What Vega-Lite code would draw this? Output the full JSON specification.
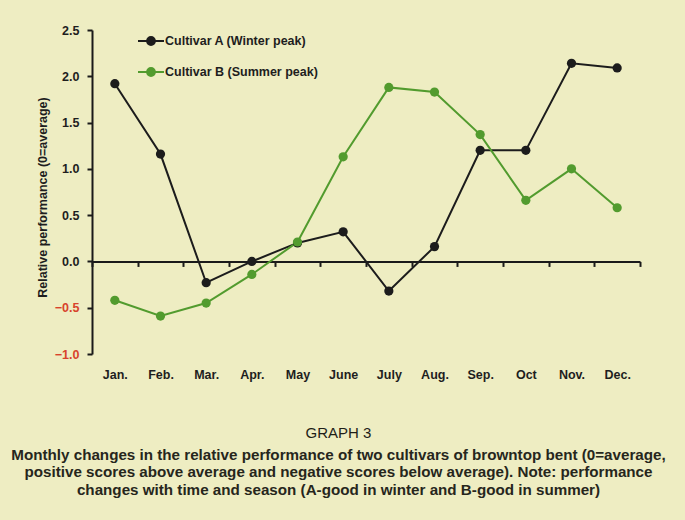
{
  "$schema": "https://vega.github.io/schema/vega-lite/v6.json",
  "width": 548,
  "height": 324,
  "autosize": "none",
  "padding": {"left": 92, "top": 30, "right": 45, "bottom": 166},
  "background": "#eeedc2",
  "config": {
    "view": {"stroke": null},
    "font": "Liberation Sans"
  },
  "title": {
    "text": "GRAPH 3",
    "subtitle": [
      "Monthly changes in the relative performance of two cultivars of browntop bent (0=average,",
      "positive scores above average and negative scores below average).  Note: performance",
      "changes with time and season (A-good in winter and B-good in summer)"
    ],
    "orient": "bottom",
    "anchor": "middle",
    "frame": "bounds",
    "offset": 45,
    "font": "Liberation Sans",
    "fontSize": 15,
    "fontWeight": "normal",
    "color": "#1e1e18",
    "subtitleFont": "Liberation Sans",
    "subtitleFontSize": 15.2,
    "subtitleFontWeight": "bold",
    "subtitleColor": "#26261c",
    "subtitlePadding": 7,
    "subtitleLineHeight": 17.5
  },
  "data": {
    "values": [
      {"month": "Jan.", "cultivar": "Cultivar A (Winter peak)", "score": 1.92},
      {"month": "Feb.", "cultivar": "Cultivar A (Winter peak)", "score": 1.16},
      {"month": "Mar.", "cultivar": "Cultivar A (Winter peak)", "score": -0.23},
      {"month": "Apr.", "cultivar": "Cultivar A (Winter peak)", "score": 0.0},
      {"month": "May", "cultivar": "Cultivar A (Winter peak)", "score": 0.2},
      {"month": "June", "cultivar": "Cultivar A (Winter peak)", "score": 0.32},
      {"month": "July", "cultivar": "Cultivar A (Winter peak)", "score": -0.32},
      {"month": "Aug.", "cultivar": "Cultivar A (Winter peak)", "score": 0.16},
      {"month": "Sep.", "cultivar": "Cultivar A (Winter peak)", "score": 1.2},
      {"month": "Oct", "cultivar": "Cultivar A (Winter peak)", "score": 1.2},
      {"month": "Nov.", "cultivar": "Cultivar A (Winter peak)", "score": 2.14},
      {"month": "Dec.", "cultivar": "Cultivar A (Winter peak)", "score": 2.09},
      {"month": "Jan.", "cultivar": "Cultivar B (Summer peak)", "score": -0.42},
      {"month": "Feb.", "cultivar": "Cultivar B (Summer peak)", "score": -0.59},
      {"month": "Mar.", "cultivar": "Cultivar B (Summer peak)", "score": -0.45},
      {"month": "Apr.", "cultivar": "Cultivar B (Summer peak)", "score": -0.14},
      {"month": "May", "cultivar": "Cultivar B (Summer peak)", "score": 0.21},
      {"month": "June", "cultivar": "Cultivar B (Summer peak)", "score": 1.13},
      {"month": "July", "cultivar": "Cultivar B (Summer peak)", "score": 1.88},
      {"month": "Aug.", "cultivar": "Cultivar B (Summer peak)", "score": 1.83},
      {"month": "Sep.", "cultivar": "Cultivar B (Summer peak)", "score": 1.37},
      {"month": "Oct", "cultivar": "Cultivar B (Summer peak)", "score": 0.66},
      {"month": "Nov.", "cultivar": "Cultivar B (Summer peak)", "score": 1.0},
      {"month": "Dec.", "cultivar": "Cultivar B (Summer peak)", "score": 0.58}
    ]
  },
  "mark": {
    "type": "line",
    "strokeWidth": 2,
    "point": {"filled": true, "size": 85, "opacity": 1}
  },
  "encoding": {
    "x": {
      "field": "month",
      "type": "nominal",
      "sort": ["Jan.", "Feb.", "Mar.", "Apr.", "May", "June", "July", "Aug.", "Sep.", "Oct", "Nov.", "Dec."],
      "scale": {"type": "band", "paddingInner": 0, "paddingOuter": 0},
      "axis": {
        "title": null,
        "orient": "bottom",
        "offset": -92.57,
        "labelAngle": 0,
        "tickBand": "extent",
        "domainColor": "#1a1a1a",
        "domainWidth": 2,
        "tickColor": "#1a1a1a",
        "tickWidth": 2,
        "tickSize": 5,
        "labelPadding": 102,
        "labelFont": "Liberation Sans",
        "labelFontSize": 12.5,
        "labelFontWeight": "bold",
        "labelColor": "#1e1e1e",
        "grid": false
      }
    },
    "y": {
      "field": "score",
      "type": "quantitative",
      "scale": {"domain": [-1, 2.5], "nice": false, "zero": false},
      "axis": {
        "title": "Relative performance (0=average)",
        "values": [-1, -0.5, 0, 0.5, 1, 1.5, 2, 2.5],
        "format": ".1f",
        "grid": false,
        "domainColor": "#1a1a1a",
        "domainWidth": 2,
        "tickColor": "#1a1a1a",
        "tickWidth": 2,
        "tickSize": 5,
        "labelPadding": 8,
        "labelFont": "Liberation Sans",
        "labelFontSize": 12.5,
        "labelFontWeight": "bold",
        "labelColor": {"condition": {"test": "datum.value < 0", "value": "#d8432c"}, "value": "#1e1e1e"},
        "titleFont": "Liberation Sans",
        "titleFontSize": 12.5,
        "titleFontWeight": "bold",
        "titleColor": "#1e1e1e",
        "titleAngle": -90,
        "titleX": -50,
        "titleY": 167,
        "titleAlign": "center",
        "titleBaseline": "middle"
      }
    },
    "color": {
      "field": "cultivar",
      "type": "nominal",
      "scale": {
        "domain": ["Cultivar A (Winter peak)", "Cultivar B (Summer peak)"],
        "range": ["#1c1c1c", "#529b2e"]
      },
      "legend": {
        "title": null,
        "orient": "none",
        "legendX": 45,
        "legendY": -3,
        "symbolType": "M-1,0H1M-0.3,0A0.3,0.3 0 1,0 0.3,0A0.3,0.3 0 1,0 -0.3,0Z",
        "symbolSize": 676,
        "symbolStrokeWidth": 2,
        "symbolOpacity": 1,
        "labelFont": "Liberation Sans",
        "labelFontSize": 12.5,
        "labelFontWeight": "bold",
        "labelColor": "#1e1e1e",
        "labelOffset": 0,
        "rowPadding": 9
      }
    }
  }
}
